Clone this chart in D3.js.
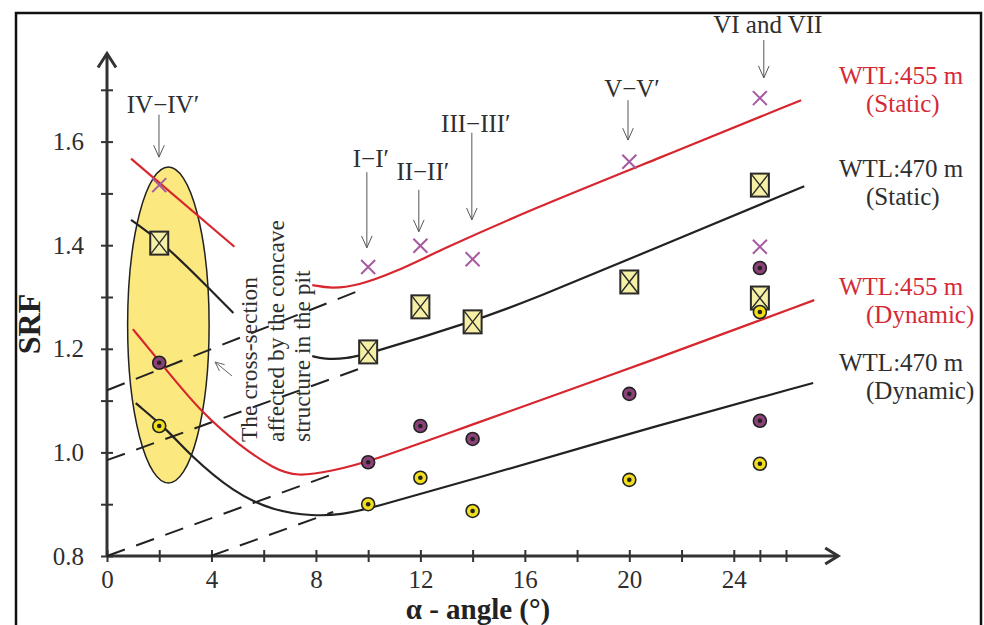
<!DOCTYPE html>
<html>
<head>
<meta charset="utf-8">
<script src="https://cdnjs.cloudflare.com/ajax/libs/d3/7.8.5/d3.min.js"></script>
<style>
body { margin: 0; background: #fff; }
svg, svg text { font-family: "Liberation Serif", "Times New Roman", serif; }
</style>
</head>
<body>
<div id="chart"></div>
<script>
// tick values
var xTicks = [0, 2, 4, 6, 8, 10, 12, 14, 16, 18, 20, 22, 24, 25, 26];
var xLabels = [0, 4, 8, 12, 16, 20, 24];
var yTicks = [0.8, 0.9, 1.0, 1.1, 1.2, 1.3, 1.4, 1.5, 1.6, 1.7];
var yLabels = [0.8, 1.0, 1.2, 1.4, 1.6];

// measured SRF per section (angle in degrees)
var angles = [2, 10, 12, 14, 20, 25, 25];
var static455 = [1.516, 1.358, 1.399, 1.373, 1.561, 1.684, 1.397];
var static470 = [1.404, 1.194, 1.281, 1.252, 1.329, 1.516, 1.298];
var dynamic455 = [1.173, 0.981, 1.051, 1.026, 1.113, 1.356, 1.061];
var dynamic470 = [1.051, 0.900, 0.951, 0.887, 0.947, 1.271, 0.978];

// fitted trend curves [angle, SRF]
var static455A = [[0.92, 1.567], [4.88, 1.397]];
var static455B = [[7.86, 1.323], [8.6, 1.316], [9.6, 1.322], [11, 1.347], [12.74, 1.390], [16.2, 1.468], [21.13, 1.568], [26.58, 1.680]];
var static470A = [[0.92, 1.449], [2.06, 1.408], [3.59, 1.333], [4.84, 1.269]];
var static470B = [[7.86, 1.186], [8.3, 1.180], [9.2, 1.181], [9.99, 1.190], [13.96, 1.252], [16.25, 1.294], [21.13, 1.397], [26.7, 1.514]];
var dynamic455C = [[0.99, 1.238], [2.1, 1.170], [3.59, 1.078], [5.11, 1.012], [6.4, 0.968], [7.28, 0.953], [8.6, 0.964], [10, 0.981], [13.6, 1.047], [21.13, 1.182], [27.08, 1.294]];
var dynamic470C = [[1.1, 1.095], [2.33, 1.043], [3.13, 0.997], [4.86, 0.922], [6.38, 0.887], [7.9, 0.877], [9, 0.880], [10, 0.891], [13.96, 0.947], [21.13, 1.053], [27.04, 1.134]];

// dashed extrapolations
var dashLines = [
  [[0, 1.120], [9.69, 1.313]],
  [[0, 0.985], [9.69, 1.162]],
  [[0, 0.8], [8.54, 0.956]],
  [[3.97, 0.8], [8.66, 0.885]]
];

// concave-pit zone (center angle, center SRF, half width, half height)
var zone = [2.35, 1.246, 1.56, 0.305];

// section labels
var sectionNames = ['IV\u2212IV\u2032', 'I\u2212I\u2032', 'II\u2212II\u2032', 'III\u2212III\u2032', 'V\u2212V\u2032', 'VI and VII'];
var sectionAngles = [1.99, 9.95, 11.94, 13.97, 19.95, 25.15];
var sectionText = [1.655, 1.551, 1.526, 1.619, 1.686, 1.81];
var sectionFrom = [1.652, 1.541, 1.507, 1.617, 1.680, 1.796];
var sectionTo = [1.570, 1.395, 1.426, 1.449, 1.603, 1.723];

var legendNames = ['WTL:455 m', 'WTL:470 m', 'WTL:455 m', 'WTL:470 m'];
var legendKinds = ['(Static)', '(Static)', '(Dynamic)', '(Dynamic)'];
var noteLines = ['The cross-section', 'affected by the concave', 'structure in the pit'];

var W = 984, H = 625;
var red = '#d8262f', redText = '#d42a36', ink = '#222', textInk = '#2e2e2e';
var serif = '"Liberation Serif", "Times New Roman", serif';

var svg = d3.select('#chart').append('svg')
  .attr('width', W)
  .attr('height', H);

var x = d3.scaleLinear().domain([0, 26]).range([107, 786]);
var y = d3.scaleLinear().domain([0.8, 1.6]).range([556, 141.6]);

// arrow helper (open head)
function arrow(g, x1, y1, x2, y2, len, color, width) {
  var a = Math.atan2(y2 - y1, x2 - x1), s = 0.42;
  g.append('line').attr('x1', x1).attr('y1', y1).attr('x2', x2).attr('y2', y2)
    .attr('stroke', color).attr('stroke-width', width);
  g.append('path')
    .attr('d', 'M' + (x2 - len * Math.cos(a - s)) + ',' + (y2 - len * Math.sin(a - s)) +
      'L' + x2 + ',' + y2 +
      'L' + (x2 - len * Math.cos(a + s)) + ',' + (y2 - len * Math.sin(a + s)))
    .attr('fill', 'none').attr('stroke', color).attr('stroke-width', width);
}

//Zone ellipse
svg.append('ellipse')
  .attr('cx', x(zone[0]))
  .attr('cy', y(zone[1]))
  .attr('rx', x(zone[0] + zone[2]) - x(zone[0]))
  .attr('ry', y(zone[1] - zone[3]) - y(zone[1]))
  .attr('fill', '#fbe97f')
  .attr('stroke', ink)
  .attr('stroke-width', 1.5);

//Axes
var gx = svg.append('g')
  .attr('transform', 'translate(0,' + y(0.8) + ')')
  .call(d3.axisBottom(x).tickValues(xTicks).tickSize(6).tickPadding(8)
    .tickFormat(function(d) { return xLabels.indexOf(d) >= 0 ? d : ''; }));
gx.attr('font-family', serif).attr('font-size', 25);
gx.select('.domain').remove();
gx.selectAll('.tick line').attr('y1', -6).attr('stroke', '#333').attr('stroke-width', 2);
gx.selectAll('.tick text').attr('fill', textInk);

var gy = svg.append('g')
  .attr('transform', 'translate(' + x(0) + ',0)')
  .call(d3.axisLeft(y).tickValues(yTicks).tickSize(6).tickPadding(17)
    .tickFormat(function(d) { return yLabels.some(function(v) { return Math.abs(v - d) < 1e-6; }) ? d3.format('.1f')(d) : ''; }));
gy.attr('font-family', serif).attr('font-size', 25);
gy.select('.domain').remove();
gy.selectAll('.tick line').attr('x1', 6).attr('stroke', '#333').attr('stroke-width', 2);
gy.selectAll('.tick text').attr('fill', textInk);

// axis lines with open arrows
var axisG = svg.append('g').attr('stroke', '#333').attr('stroke-width', 3).attr('fill', 'none');
axisG.append('path').attr('d', 'M' + x(0) + ',' + y(0.8) + 'L' + x(28) + ',' + y(0.8));
axisG.append('path').attr('d', 'M' + x(0) + ',' + y(0.8) + 'L' + x(0) + ',' + y(1.77));
axisG.append('path').attr('d', 'M' + (x(28) - 13) + ',' + (y(0.8) - 8) + 'L' + x(28) + ',' + y(0.8) + 'L' + (x(28) - 13) + ',' + (y(0.8) + 8));
axisG.append('path').attr('d', 'M' + (x(0) - 9) + ',' + (y(1.77) + 14) + 'L' + x(0) + ',' + y(1.77) + 'L' + (x(0) + 9) + ',' + (y(1.77) + 14));

//Dashed lines
var line = d3.line().x(function(d) { return x(d[0]); }).y(function(d) { return y(d[1]); });
svg.selectAll('.dash')
  .data(dashLines)
  .enter()
  .append('path')
  .attr('class', 'dash')
  .attr('d', line)
  .attr('fill', 'none')
  .attr('stroke', ink)
  .attr('stroke-width', 2)
  .attr('stroke-dasharray', '19,12');

//Trend curves
var curve = d3.line().x(function(d) { return x(d[0]); }).y(function(d) { return y(d[1]); }).curve(d3.curveBasis);
var curves = [
  { pts: static455A, c: red }, { pts: static455B, c: red },
  { pts: static470A, c: ink }, { pts: static470B, c: ink },
  { pts: dynamic455C, c: red }, { pts: dynamic470C, c: ink }
];
svg.selectAll('.curve')
  .data(curves)
  .enter()
  .append('path')
  .attr('class', 'curve')
  .attr('d', function(d) { return curve(d.pts); })
  .attr('fill', 'none')
  .attr('stroke', function(d) { return d.c; })
  .attr('stroke-width', 2.2);

//Markers - static 470 (crossed squares)
var sq = svg.selectAll('.sq')
  .data(angles.map(function(a, i) { return [a, static470[i]]; }))
  .enter()
  .append('g')
  .attr('class', 'sq')
  .attr('transform', function(d) { return 'translate(' + x(d[0]) + ',' + y(d[1]) + ')'; });
sq.append('rect')
  .attr('x', -9).attr('y', -11.5).attr('width', 18).attr('height', 23)
  .attr('fill', '#f6efa6').attr('stroke', '#2a2a2a').attr('stroke-width', 2);
sq.append('path')
  .attr('d', 'M-9,-11.5L9,11.5M9,-11.5L-9,11.5')
  .attr('stroke', '#2a2a2a').attr('stroke-width', 1.4);

//Markers - static 455 (crosses)
svg.selectAll('.cross')
  .data(angles.map(function(a, i) { return [a, static455[i]]; }))
  .enter()
  .append('path')
  .attr('class', 'cross')
  .attr('transform', function(d) { return 'translate(' + x(d[0]) + ',' + y(d[1]) + ')'; })
  .attr('d', 'M-7,-7L7,7M7,-7L-7,7')
  .attr('stroke', '#a65aa2')
  .attr('stroke-width', 2);

//Markers - dynamic (circles with dot)
function dots(vals, fill, cls) {
  var g = svg.selectAll('.' + cls)
    .data(angles.map(function(a, i) { return [a, vals[i]]; }))
    .enter()
    .append('g')
    .attr('class', cls)
    .attr('transform', function(d) { return 'translate(' + x(d[0]) + ',' + y(d[1]) + ')'; });
  g.append('circle').attr('r', 6.5).attr('fill', fill).attr('stroke', ink).attr('stroke-width', 1.6);
  g.append('circle').attr('r', 2.3).attr('fill', ink);
}
dots(dynamic455, '#8c4179', 'dp');
dots(dynamic470, '#f1de1c', 'dy');

//Section labels with arrows
var ann = svg.append('g');
sectionNames.forEach(function(n, i) {
  ann.append('text')
    .attr('x', x(sectionAngles[i]) + 4)
    .attr('y', y(sectionText[i]))
    .attr('text-anchor', 'middle')
    .attr('font-size', 25)
    .attr('fill', textInk)
    .text(n);
  arrow(ann, x(sectionAngles[i]), y(sectionFrom[i]), x(sectionAngles[i]), y(sectionTo[i]), 13, '#555', 1);
});

//Rotated note
var note = svg.append('g').attr('transform', 'translate(257,442) rotate(-90)');
note.selectAll('text')
  .data(noteLines)
  .enter()
  .append('text')
  .attr('x', 0)
  .attr('y', function(d, i) { return i * 26.5; })
  .attr('font-size', 23.5)
  .attr('fill', textInk)
  .text(function(d) { return d; });
arrow(svg, 232, 376, 215, 362, 10, '#666', 1);

//Legend text on the right
var legend = svg.append('g').attr('font-size', 25);
var legendY = [84, 177, 295, 371];
legendNames.forEach(function(n, i) {
  var col = (i % 2 === 0) ? redText : textInk;
  legend.append('text').attr('x', 839).attr('y', legendY[i]).attr('fill', col).text(n);
  legend.append('text').attr('x', 866).attr('y', legendY[i] + 28).attr('fill', col).text(legendKinds[i]);
});

//Axis titles
svg.append('text')
  .attr('x', 478)
  .attr('y', 619)
  .attr('text-anchor', 'middle')
  .attr('font-size', 29)
  .attr('font-weight', 'bold')
  .attr('fill', '#222')
  .text('\u03b1 - angle (\u00b0)');
svg.append('text')
  .attr('transform', 'translate(40,324) rotate(-90)')
  .attr('text-anchor', 'middle')
  .attr('font-size', 32)
  .attr('font-weight', 'bold')
  .attr('fill', '#222')
  .text('SRF');

//Frame
svg.append('rect')
  .attr('x', 16)
  .attr('y', 13)
  .attr('width', 965)
  .attr('height', 650)
  .attr('fill', 'none')
  .attr('stroke', '#111')
  .attr('stroke-width', 2.5);
</script>
</body>
</html>
